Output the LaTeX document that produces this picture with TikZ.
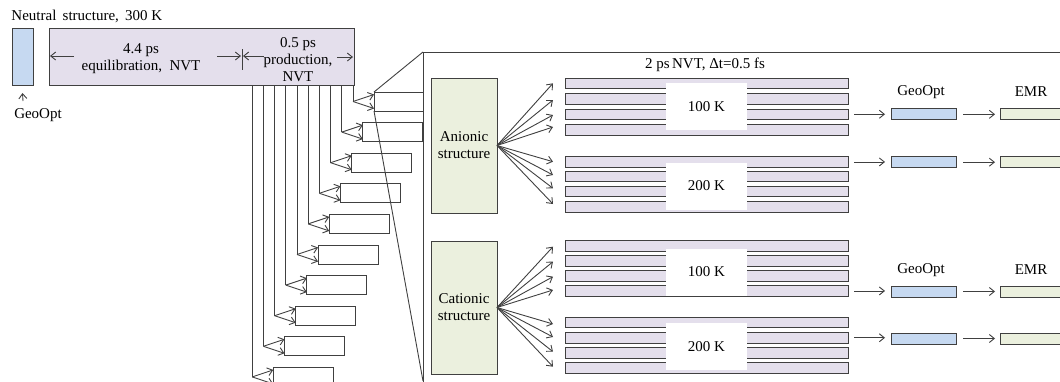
\documentclass[tikz,border=0pt]{standalone}
\usepackage{fontspec}
\setmainfont{Liberation Serif}
\usetikzlibrary{arrows.meta}
\definecolor{lnc}{HTML}{404040}
\definecolor{blu}{HTML}{C6D9F1}
\definecolor{pur}{HTML}{E4DFEC}
\definecolor{grn}{HTML}{EBF0DE}
\begin{document}
\begin{tikzpicture}[x=1pt,y=-1pt, line width=0.9pt, draw=lnc,
  >={Straight Barb[length=5pt,width=8pt]},
  txt/.style={font=\fontsize{15}{17}\selectfont, inner sep=0pt, align=center, text=black},
  rbox/.style={draw=lnc, line width=0.9pt, inner sep=0pt, outer sep=0pt},
  stbox/.style={rbox, fill=white, minimum height=19pt},
  bar/.style={rbox, fill=pur, minimum width=283pt, minimum height=10.5pt},
  gbox/.style={rbox, fill=blu, minimum width=65pt, minimum height=11pt},
  ebox/.style={rbox, fill=grn, minimum width=80pt, minimum height=11pt},
  lbl/.style={txt, fill=white, minimum width=81pt, minimum height=47pt}]
\useasboundingbox (0,0) rectangle (1060,381);
\clip (0,0) rectangle (1060,381);

% ---- left part ----
\node[txt, anchor=west] (title) at (11,16) {Neutral \,structure, \,300 K};
\node[rbox, fill=blu, minimum width=21pt, minimum height=57pt] (neu) at (22.5,56.5) {};
\node[rbox, fill=pur, minimum width=305pt, minimum height=57pt] (eq) at (201.5,56.5) {};
\node[txt] (geo) at (38,115) {GeoOpt};
\coordinate (ga) at (23,101);
\draw[->] (ga) -- ([yshift=-8pt]neu.south);

\node[txt] (t44) at (141,58.5) {4.4 ps\\equilibration, \ NVT};
\node[txt] (t05) at (298,60) {0.5 ps\\production,\\NVT};
\coordinate (a1s) at (74,56);  \coordinate (a1e) at (50,56);
\coordinate (a2s) at (217,56); \coordinate (a2e) at (241,56);
\coordinate (tk1) at (242,49); \coordinate (tk2) at (242,70);
\coordinate (a3s) at (264,56); \coordinate (a3e) at (243,56);
\coordinate (a4s) at (337,57); \coordinate (a4e) at (353,57);
\draw[->] (a1s) -- (a1e);
\draw[->] (a2s) -- (a2e);
\draw (tk1) -- (tk2);
\draw[->] (a3s) -- (a3e);
\draw[->] (a4s) -- (a4e);

% ---- staircase ----
\foreach \i in {0,...,9} {
  \pgfmathsetmacro\bl{374-11.2*\i}
  \pgfmathsetmacro\bt{92+30.6*\i}
  \pgfmathsetmacro\bw{ifthenelse(\i==0,49,60)}
  \pgfmathsetmacro\cx{\bl+\bw/2}
  \pgfmathsetmacro\cy{\bt+9.5}
  \node[stbox, minimum width=\bw pt] (st\i) at (\cx,\cy) {};
  \coordinate (f\i) at (\bl-21,\cy);
  \draw (f\i |- eq.south) -- (f\i);
  \draw[->] (f\i) -- ([yshift=7pt]st\i.west);
  \draw[->] (f\i) -- ([yshift=-7pt]st\i.west);
}

% ---- zoom frame ----
\coordinate (ftl) at (423,52);
\coordinate (ftr) at (1070,52);
\coordinate (fbl) at (423,385);
\coordinate (zbl) at (423,381);
\draw (ftr) -- (ftl) -- (fbl);
\draw (st0.north west) -- (ftl);
\draw (st0.south west) -- (zbl);

% ---- anionic ----
\node[rbox, fill=grn, minimum width=66pt, minimum height=135pt] (an) at (464,145.5) {};
\node[txt] at (an.center) {Anionic\\structure};
\node[txt] (nvt) at (705,65) {2 ps\,NVT, Δt=0.5 fs};
\foreach \t [count=\k] in {78.3,93.5,109,124.7,156.7,171,186,201.7}
  \node[bar] (ab\k) at (706.5,\t+5.25) {};
\node[lbl] (l1) at (706.5,106.5) {100 K};
\node[lbl] (l2) at (706.5,186) {200 K};
\foreach \y [count=\k] in {83.3,100,115,127,161.7,175,188.3,204} {
  \coordinate (at\k) at (553,\y);
  \draw[->] (an.east) -- (at\k);
}

% ---- cationic ----
\node[rbox, fill=grn, minimum width=66pt, minimum height=133pt] (ca) at (464,307.5) {};
\node[txt] at (ca.center) {Cationic\\structure};
\foreach \t [count=\k] in {240.7,255.7,270.7,285.7,317.3,332.5,347.7,362.7}
  \node[bar] (cb\k) at (706.5,\t+5.25) {};
\node[lbl] (l3) at (706.5,272) {100 K};
\node[lbl] (l4) at (706.5,346.5) {200 K};
\foreach \y [count=\k] in {246.7,261.7,276.7,290,324,337,351.7,366.7} {
  \coordinate (ct\k) at (553,\y);
  \draw[->] (ca.east) -- (ct\k);
}

% ---- right side ----
\node[txt] at (921,92) {GeoOpt};
\node[txt] at (1031,92) {EMR};
\node[txt] at (921,270) {GeoOpt};
\node[txt] at (1031,270) {EMR};

\node[gbox] (g1) at (923.5,114.3) {};
\node[ebox] (e1) at (1040,114.3) {};
\node[gbox] (g2) at (923.5,162.2) {};
\node[ebox] (e2) at (1040,162.2) {};
\node[gbox] (g3) at (923.5,291.5) {};
\node[ebox] (e3) at (1040,291.5) {};
\node[gbox] (g4) at (923.5,338.5) {};
\node[ebox] (e4) at (1040,338.5) {};

\foreach \b/\g/\e in {ab3/g1/e1, ab5/g2/e2, cb4/g3/e3, cb6/g4/e4} {
  \draw[->, shorten <=6pt, shorten >=6pt] (\b.east) -- (\g.west |- \b.east);
  \draw[->, shorten <=7pt, shorten >=5pt] (\g.east) -- (\e.west);
}
\end{tikzpicture}
\end{document}
